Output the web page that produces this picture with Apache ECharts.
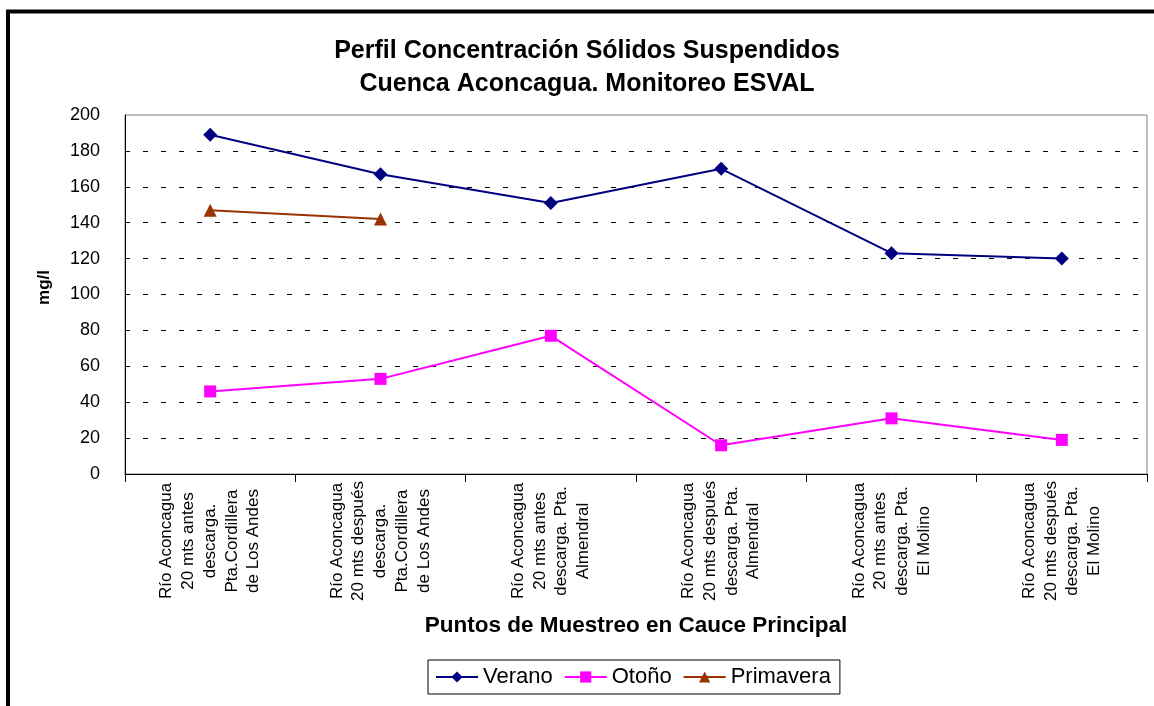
<!DOCTYPE html>
<html>
<head>
<meta charset="utf-8">
<script src="https://cdn.jsdelivr.net/npm/echarts@6/dist/echarts.min.js"></script>
<style>
  html, body { margin: 0; padding: 0; background: #fff; }
  #chart { width: 1154px; height: 706px; }
</style>
</head>
<body>
<div id="chart"></div>
<script>
// puntos de muestreo
const categories = [
  'Río Aconcagua\n20 mts antes\ndescarga.\nPta.Cordillera\nde Los Andes',
  'Río Aconcagua\n20 mts después\ndescarga.\nPta.Cordillera\nde Los Andes',
  'Río Aconcagua\n20 mts antes\ndescarga. Pta.\nAlmendral',
  'Río Aconcagua\n20 mts después\ndescarga. Pta.\nAlmendral',
  'Río Aconcagua\n20 mts antes\ndescarga. Pta.\nEl Molino',
  'Río Aconcagua\n20 mts después\ndescarga. Pta.\nEl Molino'
]

const verano = [189, 167, 151, 170, 123, 120]
const otono = [46, 53, 77, 16, 31, 19]
const primavera = [147, 142, null, null, null, null]

const font = '"Liberation Sans", Arial, sans-serif'

const chart = echarts.init(document.getElementById('chart'))

const option = {
  backgroundColor: '#fff',
  animation: false,
  textStyle: { fontFamily: font, color: '#000' },
  graphic: [
    {
      type: 'rect',
      z: -10,
      shape: { x: 8, y: 11.5, width: 2000, height: 2000 },
      style: { fill: 'none', stroke: '#000', lineWidth: 4 }
    }
  ],
  title: {
    text: 'Perfil Concentración Sólidos Suspendidos\nCuenca Aconcagua. Monitoreo ESVAL',
    left: 582,
    top: 30,
    textAlign: 'center',
    textStyle: {
      fontFamily: font,
      fontSize: 25,
      fontWeight: 'bold',
      color: '#000',
      lineHeight: 33
    }
  },
  legend: {
    left: 428,
    top: 660,
    padding: [6, 9, 6, 7],
    borderColor: '#000',
    borderWidth: 1,
    itemWidth: 42,
    itemHeight: 14,
    itemGap: 11,
    textStyle: { fontFamily: font, fontSize: 22, color: '#000' },
    data: ['Verano', 'Otoño', 'Primavera']
  },
  grid: {
    left: 125,
    top: 115,
    right: 7,
    bottom: 232,
    show: true,
    borderColor: '#808080',
    borderWidth: 1
  },
  xAxis: {
    type: 'category',
    data: categories,
    boundaryGap: true,
    name: 'Puntos de Muestreo en Cauce Principal',
    nameLocation: 'middle',
    nameGap: 140,
    nameTextStyle: { fontFamily: font, fontSize: 22.5, fontWeight: 'bold', color: '#000' },
    axisLine: { lineStyle: { color: '#000', width: 1 } },
    axisTick: { show: true, length: 8, inside: false, lineStyle: { color: '#000' } },
    axisLabel: {
      interval: 0,
      rotate: 90,
      align: 'center',
      verticalAlign: 'middle',
      margin: 67,
      fontFamily: font,
      fontSize: 17,
      lineHeight: 21.7,
      color: '#000',
      // cada línea centrada dentro del bloque
      formatter: (value) => value.split('\n').map(s => '{c|' + s + '}').join('\n'),
      rich: {
        c: {
          width: 118,
          align: 'center',
          fontFamily: font,
          fontSize: 17,
          lineHeight: 21.7,
          color: '#000'
        }
      }
    },
    splitLine: { show: false }
  },
  yAxis: {
    type: 'value',
    min: 0,
    max: 200,
    interval: 20,
    name: 'mg/l',
    nameLocation: 'middle',
    nameGap: 72,
    nameTextStyle: { fontFamily: font, fontSize: 17, fontWeight: 'bold', color: '#000', padding: [0, 0, 0, 14] },
    axisLine: { show: true, lineStyle: { color: '#000', width: 1 } },
    axisTick: { show: false },
    axisLabel: { fontFamily: font, fontSize: 18, color: '#000', margin: 25 },
    splitLine: {
      show: true,
      showMinLine: false,
      showMaxLine: false,
      lineStyle: { color: '#000', width: 1, type: [5, 13] }
    }
  },
  series: [
    {
      name: 'Verano',
      type: 'line',
      data: verano,
      symbol: 'diamond',
      symbolSize: 14,
      lineStyle: { color: '#000080', width: 2 },
      itemStyle: { color: '#000080' }
    },
    {
      name: 'Otoño',
      type: 'line',
      data: otono,
      symbol: 'rect',
      symbolSize: 12,
      lineStyle: { color: '#FF00FF', width: 2 },
      itemStyle: { color: '#FF00FF' }
    },
    {
      name: 'Primavera',
      type: 'line',
      data: primavera,
      connectNulls: false,
      symbol: 'triangle',
      symbolSize: 13,
      lineStyle: { color: '#993300', width: 2 },
      itemStyle: { color: '#993300' }
    }
  ]
}

chart.setOption(option)

window.addEventListener('resize', () => {
  chart?.resize()
})
</script>
</body>
</html>
